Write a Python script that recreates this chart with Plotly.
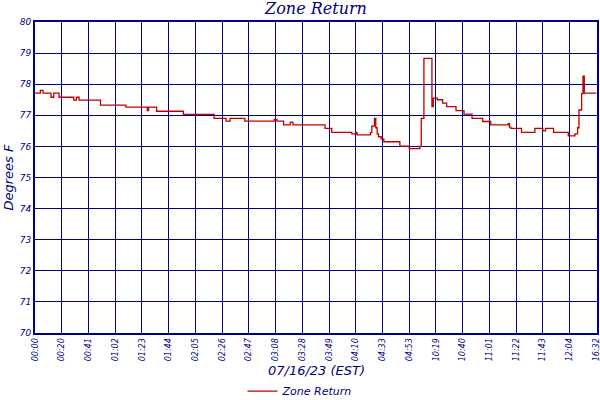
import plotly.graph_objects as go

# Tick labels (one every 20 samples)
tick_labels = ["00:00", "00:20", "00:41", "01:02", "01:23", "01:44", "02:05", "02:26",
               "02:47", "03:08", "03:28", "03:49", "04:10", "04:33", "04:53", "10:19",
               "10:40", "11:01", "11:22", "11:43", "12:04", "16:32"]
samples_per_tick = 20

# Change points of the Zone Return series (sample index, degrees F)
sample_idx = [0, 4, 6, 12, 14, 18, 29, 31, 33, 49, 68, 84, 85, 91, 111, 134, 143, 146,
              157, 179, 181, 186, 191, 193, 217, 222, 237, 240, 241, 251, 252, 254, 255,
              256, 257, 259, 261, 273, 280, 288, 289, 291, 297, 298, 301, 305, 308, 315,
              321, 327, 335, 341, 354, 355, 356, 364, 374, 380, 382, 388, 399, 404, 406,
              407, 409, 410, 411, 420]
zone_return = [77.71, 77.80, 77.71, 77.58, 77.71, 77.58, 77.49, 77.58, 77.49, 77.33,
               77.26, 77.15, 77.26, 77.13, 77.03, 76.90, 76.81, 76.90, 76.81, 76.87,
               76.81, 76.69, 76.78, 76.69, 76.58, 76.45, 76.40, 76.44, 76.37, 76.44,
               76.65, 76.90, 76.60, 76.40, 76.31, 76.24, 76.15, 76.01, 75.93, 76.00,
               76.90, 78.83, 77.28, 77.55, 77.50, 77.39, 77.28, 77.15, 77.04, 76.90,
               76.80, 76.69, 76.73, 76.62, 76.58, 76.45, 76.58, 76.50, 76.58, 76.45,
               76.34, 76.40, 76.60, 77.17, 77.70, 78.26, 77.71, 77.71]

y_ticks = [70, 71, 72, 73, 74, 75, 76, 77, 78, 79, 80]

navy = "#000080"
red = "#C00000"
sans = "DejaVu Sans"

fig = go.Figure()
fig.add_trace(go.Scatter(
    x=sample_idx, y=zone_return, mode="lines", name="Zone Return",
    line=dict(color=red, width=1.3, shape="hv"),
))

tick_vals = [i * samples_per_tick for i in range(len(tick_labels))]

fig.update_layout(
    width=600, height=400,
    margin=dict(l=35, r=3, t=22, b=67, autoexpand=False),
    paper_bgcolor="white", plot_bgcolor="white",
    showlegend=True,
    legend=dict(orientation="h", xref="container", x=0.5, xanchor="center",
                yref="container", y=0.022, yanchor="middle",
                font=dict(family=sans, size=11, color=navy, style="italic"),
                itemwidth=30),
    title=dict(text="Zone Return", x=0.5, xref="paper", xanchor="center",
               yref="container", y=0.978, yanchor="middle",
               font=dict(family="DejaVu Serif", size=16, color=navy, style="italic")),
    xaxis=dict(range=[0, 420.5], tickmode="array", tickvals=tick_vals,
               ticktext=tick_labels, tickangle=-90, automargin=False,
               ticklabeloverflow="allow",
               tickfont=dict(family=sans, size=8, color=navy, style="italic"),
               showgrid=True, gridcolor=navy, gridwidth=1,
               showline=True, linecolor=navy, linewidth=2, mirror=True,
               ticks="", zeroline=False),
    yaxis=dict(range=[70, 80], tickmode="array", tickvals=y_ticks, automargin=False,
               tickfont=dict(family=sans, size=9, color=navy, style="italic"),
               showgrid=True, gridcolor=navy, gridwidth=1,
               showline=True, linecolor=navy, linewidth=2, mirror=True,
               ticks="", zeroline=False),
    annotations=[
        dict(text="07/16/23 (EST)", xref="paper", yref="paper", x=0.5, y=-0.122,
             xanchor="center", yanchor="middle", showarrow=False,
             font=dict(family=sans, size=13, color=navy, style="italic")),
        dict(text="Degrees F", xref="paper", yref="paper", x=-0.048, y=0.5,
             xanchor="center", yanchor="middle", showarrow=False, textangle=-90,
             font=dict(family=sans, size=13, color=navy, style="italic")),
    ],
)

fig.write_html("out.html", config={"displayModeBar": False},
               post_script="document.body.style.margin='0';")
